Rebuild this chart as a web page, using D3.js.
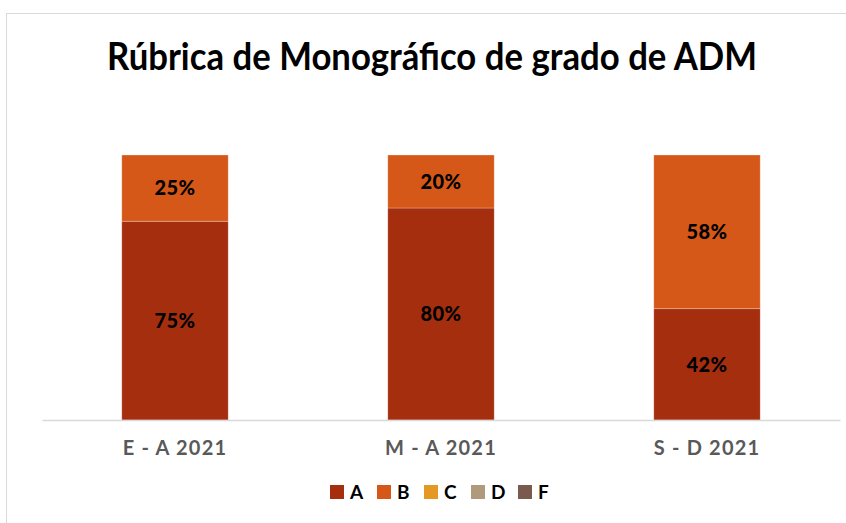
<!DOCTYPE html>
<html>
<head>
<meta charset="utf-8">
<script src="https://cdn.jsdelivr.net/npm/d3@7"></script>
<style>
  body { margin: 0; background: #fff; }
  svg { display: block; font-family: Lato, "Open Sans", sans-serif; }
</style>
</head>
<body>
<div id="chart"></div>
<script>
// data
var categories = ["E - A 2021", "M - A 2021", "S - D 2021"];
var seriesNames = ["A", "B", "C", "D", "F"];
var valuesA = [75, 80, 42];
var valuesB = [25, 20, 58];
var valuesC = [0, 0, 0];
var valuesD = [0, 0, 0];
var valuesF = [0, 0, 0];
var colors = ["#A52E0F", "#D65818", "#E59824", "#B09A7C", "#7A5A4E"];

var width = 846, height = 523;
var margin = {top: 155, right: 6, bottom: 103, left: 42};
var w = width - margin.left - margin.right,
    h = height - margin.top - margin.bottom;

var svg = d3.select("#chart").append("svg")
    .attr("width", width)
    .attr("height", height);

// chart frame
svg.append("rect")
    .attr("x", 6.5).attr("y", 13.5)
    .attr("width", 900).attr("height", 600)
    .attr("fill", "none")
    .attr("stroke", "#D9D9D9")
    .attr("stroke-width", 1);

var rows = categories.map(function(c, i) {
  return {cat: c, A: valuesA[i], B: valuesB[i], C: valuesC[i], D: valuesD[i], F: valuesF[i]};
});

var stack = d3.stack().keys(seriesNames);
var layers = stack(rows);

var x = d3.scaleBand()
    .domain(categories)
    .range([0, w])
    .paddingInner(0.6)
    .paddingOuter(0.3);

var y = d3.scaleLinear()
    .domain([0, 100])
    .range([h, 0]);

var g = svg.append("g")
    .attr("transform", "translate(" + margin.left + "," + margin.top + ")");

var layer = g.selectAll("g.layer")
    .data(layers)
    .enter().append("g")
    .attr("class", "layer")
    .attr("fill", function(d, i) { return colors[i]; });

layer.selectAll("rect")
    .data(function(d) { return d; })
    .enter().append("rect")
    .filter(function(d) { return d[1] - d[0] > 0; })
    .attr("x", function(d) { return x(d.data.cat); })
    .attr("y", function(d) { return y(d[1]); })
    .attr("width", x.bandwidth())
    .attr("height", function(d) { return y(d[0]) - y(d[1]); })
    .attr("stroke", "rgba(255,255,255,0.35)")
    .attr("stroke-width", 0.75);

// data labels
layer.selectAll("text")
    .data(function(d) { return d; })
    .enter().append("text")
    .filter(function(d) { return d[1] - d[0] > 0; })
    .attr("x", function(d) { return x(d.data.cat) + x.bandwidth() / 2; })
    .attr("y", function(d) { return (y(d[0]) + y(d[1])) / 2; })
    .attr("dy", "0.36em")
    .attr("text-anchor", "middle")
    .attr("fill", "#000")
    .attr("font-size", 20)
    .attr("font-weight", "900")
    .attr("letter-spacing", 0.4)
    .text(function(d) { return (d[1] - d[0]) + "%"; });

// x axis
var xAxis = d3.axisBottom(x).tickSize(0).tickPadding(21);
var ax = g.append("g")
    .attr("transform", "translate(0," + h + ")")
    .call(xAxis);
ax.select(".domain").attr("stroke", "#D9D9D9").attr("stroke-width", 1.5);
ax.selectAll("text")
    .attr("fill", "#595959")
    .attr("font-size", 20)
    .attr("font-weight", "bold")
    .attr("letter-spacing", 1.2)
    .attr("font-family", "Lato, sans-serif");

// title
svg.append("text")
    .attr("x", 432)
    .attr("y", 70)
    .attr("text-anchor", "middle")
    .attr("font-size", 38)
    .attr("font-weight", "bold")
    .attr("fill", "#000")
    .attr("textLength", 650)
    .attr("lengthAdjust", "spacingAndGlyphs")
    .text("Rúbrica de Monográfico de grado de ADM");

// legend
var legend = svg.append("g").attr("transform", "translate(330,485)");
var item = legend.selectAll("g")
    .data(seriesNames)
    .enter().append("g")
    .attr("transform", function(d, i) { return "translate(" + (i * 47) + ",0)"; });
item.append("rect")
    .attr("width", 14).attr("height", 14)
    .attr("fill", function(d, i) { return colors[i]; });
item.append("text")
    .attr("x", 20).attr("y", 7)
    .attr("dy", "0.36em")
    .attr("font-size", 19)
    .attr("font-weight", "bold")
    .attr("fill", "#000")
    .text(function(d) { return d; });
</script>
</body>
</html>
